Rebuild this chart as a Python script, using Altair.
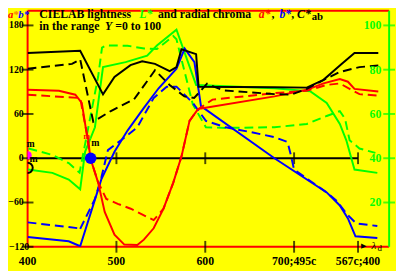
import altair as alt
import pandas as pd

# ---------------- data (x: wavelength scale, 700..772 = 495c..567c) ----------------
cab_x = [400, 459.2, 484.9, 497.8, 515.8, 529, 543.4, 559.9, 567.6, 573.2, 589.7, 592.5, 677.9, 714.3, 733.1, 751.5, 768, 794.8]
cab_y = [142.5, 145.6, 86.5, 110.3, 126.2, 131.5, 127.9, 118.2, 123.5, 147.7, 141.1, 97, 96.1, 95.7, 106.3, 125.8, 142.5, 142.5]

cabd_x = [400, 450, 459.2, 473.9, 493.7, 519.9, 543.4, 559.9, 576.5, 587.5, 602, 620, 677.9, 696.3, 714.3, 736.4, 751.5, 773.6, 794.8]
cabd_y = [121.3, 127.9, 134.1, 49.4, 64, 79.9, 119.2, 99.3, 83.8, 81.6, 101, 92, 86.9, 86.1, 94, 108, 116.9, 123.5, 125.8]

a_x = [400, 435.3, 453.7, 461, 465.4, 468.4, 470.6, 479.4, 486.8, 497.8, 508.9, 523.5, 530.9, 541.9, 553, 564, 573.2, 582.3, 591.6, 595.2, 677.9, 714.3, 733.1, 751.5, 760.6, 768, 794.8]
a_y = [92.7, 91.4, 86.1, 75, 41.9, 24.3, 0.4, -33, -72.8, -103.7, -117, -117.7, -110.3, -94.9, -68.4, -33, 2.2, 50.7, 66.2, 67.5, 83.8, 92.7, 101.4, 107.2, 103.7, 94, 90.4]

ad_x = [400, 459.2, 465.4, 470.6, 479.4, 488.6, 501.5, 516.1, 541.9, 553, 564, 573.2, 582.3, 591.6, 608.1, 677.9, 714.3, 736.4, 751.5, 762.5, 773.6, 794.8]
ad_y = [86.1, 81.6, 41.5, 0.4, -32.6, -55.1, -61.8, -68.4, -83.9, -68.4, -33, 2.2, 50.7, 66.2, 79.4, 88.2, 91.4, 99.3, 101.4, 94, 86.9, 84.7]

b_x = [400, 446.3, 459.2, 483, 497.8, 512.5, 530.9, 547.5, 567.6, 576.8, 587.8, 595.2, 677.9, 736.7, 751.5, 760.6, 769.1, 793.7]
b_y = [-106.8, -112.5, -119.3, -28.7, 8.8, 37.5, 68.3, 94.8, 121.3, 148.7, 130.1, 70.6, 0, -46.3, -64, -81.6, -105.8, -108.1]

bd_x = [400, 457.4, 458.5, 475.8, 483, 490.4, 505.1, 523.5, 541.9, 556.6, 567.6, 586.1, 600.7, 622.8, 652.2, 677.9, 692.6, 696.3, 700, 736.7, 747.7, 760.6, 769.8, 793.7]
bd_y = [-86.9, -94.9, -97.5, -55.1, -26.4, 11, 24.3, 41.9, 81.6, 97, 97, 74.9, 50.7, 41.9, 35.2, 28.6, 22, 4.4, -15.4, -46.3, -57.4, -77.3, -88.2, -91.8]

L_x = [400.3, 427.9, 446.3, 459.2, 464.7, 475.8, 484.9, 510.3, 534.6, 545.6, 567.6, 589.7, 677.9, 718.4, 736.7, 751.5, 758.8, 768, 793.7]
L_v = [34.9, 33.4, 30.4, 26.0, 42.9, 54.0, 81.2, 83.4, 86.3, 90.9, 98.1, 73.1, 71.6, 70.2, 65, 55.5, 48.1, 34.9, 33.4]

Ld_x = [401, 427.9, 446.3, 458.5, 479.4, 483.8, 488.2, 512.5, 531.2, 545.6, 564, 567.6, 586, 600.7, 622.8, 677.9, 714.3, 736.7, 751.5, 757.4, 762.5, 773.6, 791.5]
Ld_v = [44.4, 41.5, 37.8, 33.5, 76.8, 90, 91, 90.8, 89.6, 89.3, 95.2, 93.7, 64.3, 54, 53.7, 54, 55.5, 59.1, 61.3, 57.8, 48.1, 44.4, 42.4]

x_ticks = [400, 500, 600, 700, 772]
x_labels = ["400", "500", "600", "700;495c", "567c;400"]
y_ticks = [-60, 0, 60, 120, 180]
y_labels = ["\u221260", "0", "60", "120", "180"]
L_ticks = [20, 40, 60, 80, 100]

# ---------------- scales ----------------
XS = alt.Scale(domain=[400, 807], nice=False, zero=False)
YS = alt.Scale(domain=[-120, 200], nice=False, zero=False)
FONT = "Liberation Serif"
RED, GREEN, BLUE, BLACK = "#ff0000", "#00ff00", "#0000ff", "#000000"


def enc_xy(xf="x", yf="y"):
    return dict(x=alt.X(f"{xf}:Q", scale=XS, axis=None), y=alt.Y(f"{yf}:Q", scale=YS, axis=None))


def line(xs, ys, color, dashed=False, lstar=False):
    df = pd.DataFrame({"x": xs, "v": ys, "i": list(range(len(xs)))})
    ch = alt.Chart(df)
    if lstar:
        ch = ch.transform_calculate(y="3*datum.v - 120")
    else:
        ch = ch.transform_calculate(y="datum.v")
    kw = dict(color=color, strokeWidth=2, clip=True)
    if dashed:
        kw["strokeDash"] = [9, 5]
    return ch.mark_line(**kw).encode(order="i:Q", **enc_xy())


def label(txt, px, py, color=BLACK, size=12, style="normal", weight="bold", align="left"):
    return alt.Chart(pd.DataFrame({"t": [txt]})).mark_text(
        align=align, baseline="alphabetic", font=FONT, fontSize=size,
        fontWeight=weight, fontStyle=style, color=color
    ).encode(text="t:N", x=alt.value(px), y=alt.value(py))


# frame rules
frame = pd.DataFrame({
    "x": [400, 400, 400, 807, 400],
    "x2": [400, 807, 807, 807, 772],
    "y": [-120, -120, 200, -120, 0],
    "y2": [200, -120, 200, 200, 0],
    "c": [RED, RED, RED, GREEN, BLACK],
})
rules = alt.Chart(frame).mark_rule(strokeWidth=2).encode(
    x=alt.X("x:Q", scale=XS, axis=None), x2="x2:Q",
    y=alt.Y("y:Q", scale=YS, axis=None), y2="y2:Q",
    color=alt.Color("c:N", scale=None),
)

left_ticks = alt.Chart(pd.DataFrame({"x": 400, "y": [-120] + y_ticks})).mark_tick(
    orient="horizontal", size=12, thickness=2, color=BLACK).encode(**enc_xy())
green_ticks = alt.Chart(pd.DataFrame({"x": 807, "L": L_ticks})).transform_calculate(
    y="3*datum.L - 120").mark_tick(orient="horizontal", size=12, thickness=2, color=GREEN).encode(**enc_xy())
bottom_ticks = alt.Chart(pd.DataFrame({"x": x_ticks[1:], "y": -120})).mark_tick(
    orient="vertical", size=12, thickness=2, color=BLACK).encode(**enc_xy())
zero_ticks = alt.Chart(pd.DataFrame({"x": x_ticks[1:], "y": 0})).mark_tick(
    orient="vertical", size=12, thickness=2, color=BLACK).encode(**enc_xy())

left_labels = alt.Chart(pd.DataFrame({"x": 400, "y": y_ticks, "t": y_labels})).mark_text(
    align="right", baseline="middle", dx=-4, font=FONT, fontSize=10, fontWeight="bold", color=BLACK
).encode(text="t:N", **enc_xy())
left_label_min = alt.Chart(pd.DataFrame({"x": [400], "y": [-120], "t": ["\u2212120"]})).mark_text(
    align="left", baseline="middle", dx=-19, font=FONT, fontSize=10, fontWeight="bold", color=BLACK
).encode(text="t:N", **enc_xy())
green_labels = alt.Chart(pd.DataFrame({"x": 807, "L": L_ticks})).transform_calculate(
    y="3*datum.L - 120", t="''+datum.L").mark_text(
    align="right", baseline="middle", dx=-8, font=FONT, fontSize=12, fontWeight="bold", color=GREEN
).encode(text="t:N", **enc_xy())
bottom_labels = alt.Chart(pd.DataFrame({"x": x_ticks, "y": -120, "t": x_labels})).mark_text(
    align="center", baseline="top", dy=10, font=FONT, fontSize=12, fontWeight="bold", color=BLACK
).encode(text="t:N", **enc_xy())

# markers near the left
dot = alt.Chart(pd.DataFrame({"x": [471], "y": [0]})).mark_point(
    filled=True, size=140, color=BLUE, opacity=1).encode(**enc_xy())
mag = alt.Chart(pd.DataFrame({"x": [400], "y": [4]})).mark_point(
    filled=True, size=70, color="#ff00ff", opacity=1, clip=True).encode(**enc_xy())
ring = alt.Chart(pd.DataFrame({"x": [400], "y": [-13]})).mark_point(
    filled=False, size=110, color=BLACK, strokeWidth=2, opacity=1, clip=True).encode(**enc_xy())

texts = [
    label("a", -20, 7, RED, 11, "italic"),
    label("*", -14.5, 7, "#ff8000", 11),
    label("b", -9.5, 7, BLUE, 11, "italic"),
    label("*", -3.5, 7, BLUE, 11),
    label("CIELAB lightness", 12, 7.5),
    label("L*", 114, 7.5, GREEN, 12, "italic"),
    label("and radial chroma", 133, 7.5),
    label("a*", 236, 7.5, RED, 12, "italic"),
    label(",", 249, 7.5),
    label("b*", 257, 7.5, BLUE, 12, "italic"),
    label(",", 269, 7.5),
    label("C*", 275, 7.5, BLACK, 12, "italic"),
    label("ab", 290, 10, BLACK, 11),
    label("in the range", 12, 20),
    label("Y", 79, 20, BLACK, 12, "italic"),
    label("=0 to 100", 89.5, 20),
    label("m", -1, 139, BLACK, 10),
    label("m", 2, 154, BLACK, 10),
    label("m", 65, 138, BLACK, 10),
    label("m", 57, 131, RED, 8),
    label("\u25B6", 340, 242, BLACK, 7, "normal", "normal"),
    label("\u03BB", 351, 243, BLACK, 11, "italic", "normal"),
    label("d", 357, 245, BLACK, 9, "normal", "normal"),
]

layers = [
    rules, left_ticks, green_ticks, bottom_ticks, zero_ticks,
    line(L_x, L_v, GREEN, False, True),
    line(Ld_x, Ld_v, GREEN, True, True),
    line(b_x, b_y, BLUE),
    line(bd_x, bd_y, BLUE, True),
    line(a_x, a_y, RED),
    line(ad_x, ad_y, RED, True),
    line(cab_x, cab_y, BLACK),
    line(cabd_x, cabd_y, BLACK, True),
    dot, mag, ring,
    left_labels, left_label_min, green_labels, bottom_labels,
] + texts

chart = alt.layer(*layers).properties(
    width=369, height=241,
    background="#ffff00",
    padding={"left": 20, "top": 0, "right": 7, "bottom": 22},
    autosize=alt.AutoSizeParams(type="none"),
).configure_view(stroke=None)

chart.save("out.html", embed_options={"renderer": "svg", "actions": False})
